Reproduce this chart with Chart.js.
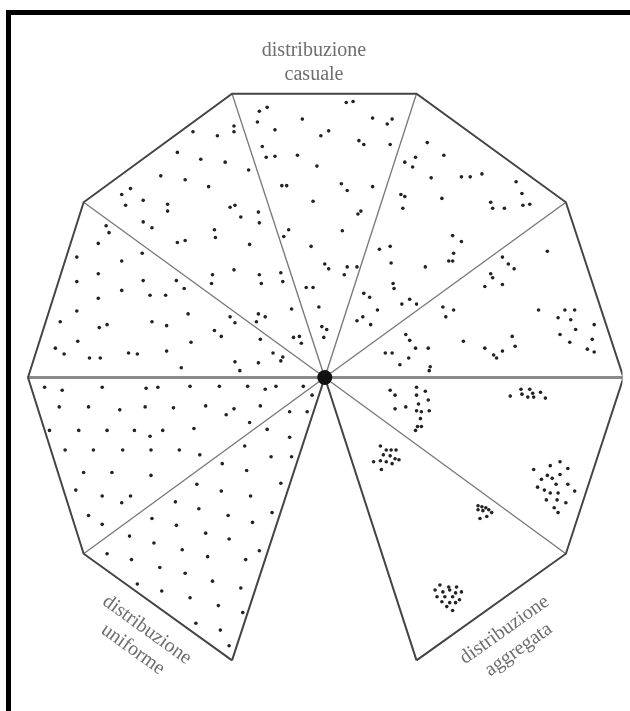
<!DOCTYPE html>
<html>
<head>
<meta charset="utf-8">
<script src="https://cdn.jsdelivr.net/npm/chart.js@4"></script>
<style>
  body { margin: 0; background: #fff; }
  #wrap { position: relative; width: 630px; height: 711px; overflow: hidden; }
  #cornice { position: absolute; left: 6px; top: 10px; width: 700px; height: 800px; border: 5px solid #000; box-sizing: border-box; }
  #area { position: absolute; left: 0; top: 0; width: 630px; height: 711px; }
</style>
</head>
<body>
<div id="wrap">
  <div id="cornice"></div>
  <div id="area"><canvas id="grafico"></canvas></div>
</div>
<script>
// vertici del decagono (giro orario dal basso a sinistra), coordinate dell'immagine
const verticiX = [230, 78, 21, 78, 230, 419, 572, 631, 572, 419];
const verticiY = [667, 558, 378, 199, 88, 88, 199, 378, 558, 667];
const centro = [325, 378];

// testi delle tre etichette
const etichetteTesti = [
  ["distribuzione", "casuale"],
  ["distribuzione", "uniforme"],
  ["distribuzione", "aggregata"]
];

// punti: spicchi in alto a sinistra
const puntiAltoSinistra = [
  [190,127],[215,131],[232,121],[232,127],[174,148],[198,155],[223,158],[157,172],[182,176],[206,183],
  [117,191],[126,185],[121,202],[139,197],[164,201],[164,208],[228,204],[233,202],[139,219],[148,225],
  [212,227],[213,235],[174,240],[182,238],[138,251],[232,268],[210,273],[209,282],
  [101,223],[104,230],[93,241],[71,255],[117,259],[93,272],[71,280],[139,279],[173,279],[181,287],
  [117,289],[146,294],[162,294],[93,297],[71,310],[185,313],[228,316],[233,322],[54,321],[148,321],
  [163,325],[94,327],[102,324],[212,330],[219,336],[72,341],[188,342],[49,348],[58,354],[84,358],
  [95,358],[124,353],[133,354],[163,351],[178,368],[233,362],
  [239,214],[257,209],[258,220],[248,242],[247,166],[258,273],[260,282],[280,271],[282,280],[291,308],
  [257,313],[264,316],[255,321],[259,339],[293,337],[299,336],[301,343],[272,353],[280,361],[282,357],
  [238,371],[257,363]
];

// punti: spicchio in alto (distribuzione casuale)
const puntiAlto = [
  [258,106],[266,102],[256,117],[274,125],[261,142],[265,153],[274,152],[281,182],[286,182],[283,234],
  [288,227],[306,286],[313,286],[319,306],[322,326],[327,329],[324,337],
  [347,97],[354,96],[302,114],[321,131],[329,126],[360,136],[365,140],[374,113],[389,119],[394,114],
  [392,140],[297,151],[317,162],[342,180],[348,187],[374,183],[313,198],[359,211],[362,208],[343,228],
  [311,244],[325,262],[329,267],[345,273],[348,265],[358,265]
];

// punti: spicchi in alto a destra
const puntiAltoDestra = [
  [407,158],[418,153],[415,163],[430,138],[434,174],[403,191],[407,193],[405,205],[381,247],[392,244],
  [393,261],[428,265],[395,282],[396,287],[365,292],[371,296],[412,298],[404,303],[419,303],[379,309],
  [358,320],[364,316],[372,324],[408,334],[412,340],[418,348],[431,348],[387,353],[394,353],[411,358],
  [402,365],[433,367],[432,371],
  [447,151],[465,173],[474,173],[486,170],[445,195],[521,178],[527,190],[495,199],[497,205],[509,205],
  [528,202],[535,201],[456,233],[465,239],[457,251],[452,259],[456,259],
  [553,249],[507,255],[513,262],[519,267],[495,272],[497,276],[507,283],[489,285],[446,306],[457,309],
  [449,316],[544,309],[571,309],[581,309],[564,317],[577,319],[582,329],[601,324],[566,334],[576,342],
  [599,339],[594,349],[601,352],[467,341],[489,348],[498,355],[501,358],[507,351],[517,336],[520,346]
];

// punti: distribuzione uniforme (in basso a sinistra)
const puntiUniforme = [
  [38,388],[56,391],[97,388],[142,389],[154,388],[187,387],[217,387],[53,408],[83,408],[115,411],
  [141,408],[170,409],[203,407],[224,416],[232,410],[43,432],[73,432],[102,432],[130,432],[146,438],
  [159,432],[191,430],[59,452],[88,452],[118,452],[147,452],[176,452],[197,457],[220,466],[78,475],
  [107,475],[147,478],[194,487],[219,494],[70,493],[97,499],[117,506],[126,499],[172,505],[196,512],
  [226,519],[83,519],[97,528],[148,522],[173,529],[203,537],[227,543],[125,540],[150,547],[179,554],
  [205,561],[102,558],[127,564],[156,572],[182,578],[210,586],[133,589],[158,596],[187,603],[216,611],
  [193,629],[218,636],[227,652],
  [246,387],[264,390],[275,387],[303,387],[312,396],[259,407],[289,413],[307,413],[248,424],[266,431],
  [289,439],[243,448],[270,459],[291,459],[245,473],[280,486],[249,499],[271,516],[251,526],[258,555],
  [244,564],[239,593],[241,618]
];

// punti: distribuzione aggregata (in basso a destra)
const puntiAggregata = [
  [392,391],[397,396],[397,410],[408,408],[419,388],[428,392],[419,396],[421,405],[431,401],[424,413],
  [419,412],[432,412],[423,420],[420,428],[424,428],[418,432],
  [382,448],[388,452],[393,452],[398,452],[385,457],[392,458],[397,461],[375,464],[382,463],[388,464],
  [394,466],[401,462],[383,472],
  [515,397],[526,390],[527,395],[535,390],[533,398],[539,398],[546,393],[551,399],[538,394],
  [539,472],[556,468],[566,464],[574,471],[547,482],[553,478],[558,481],[566,477],[574,487],[543,490],
  [550,493],[562,487],[556,496],[564,496],[581,494],[552,503],[563,503],[572,506],[560,511],[564,516],
  [482,509],[486,510],[490,511],[482,513],[487,514],[493,513],[496,516],[484,522],[491,520],
  [443,590],[452,592],[460,592],[438,595],[446,597],[453,595],[459,598],[465,597],[440,602],[448,602],
  [456,602],[463,605],[445,607],[453,608],[459,608],[450,612],[456,616]
];

document.addEventListener("DOMContentLoaded", () => {
  const ctx = document.getElementById("grafico").getContext("2d");
  const punto = p => ({ x: p[0], y: p[1] });
  const vertice = i => ({ x: verticiX[i], y: verticiY[i] });
  const c = { x: centro[0], y: centro[1] };
  const gap = { x: null, y: null };

  // contorno aperto (manca il lato in basso)
  const contorno = verticiX.map((_, i) => vertice(i));
  // raggi sottili interni
  const raggi = [];
  [1, 3, 4, 5, 6, 8].forEach(i => raggi.push(c, vertice(i), gap));
  // raggi verso i vertici in basso (bordi scuri)
  const raggiBassi = [vertice(0), c, vertice(9)];
  // linea orizzontale
  const orizzontale = [vertice(2), vertice(7)];

  const tuttiPunti = [].concat(puntiAltoSinistra, puntiAlto, puntiAltoDestra, puntiUniforme, puntiAggregata).map(punto);

  const linea = (data, colore, spessore) => ({
    type: "scatter", data: data, showLine: true, spanGaps: false,
    borderColor: colore, borderWidth: spessore, pointRadius: 0, fill: false
  });

  // etichette ruotate lungo i lati
  const pluginEtichette = {
    id: "etichette",
    afterDatasetsDraw(chart, args, opts) {
      const xs = chart.scales.x, ys = chart.scales.y;
      const g = chart.ctx;
      opts.posizioni.forEach((pos, k) => {
        g.save();
        g.translate(xs.getPixelForValue(pos.x), ys.getPixelForValue(pos.y));
        g.rotate(pos.angolo * Math.PI / 180);
        g.font = opts.font;
        g.fillStyle = opts.colore;
        g.textAlign = "center";
        g.textBaseline = "alphabetic";
        etichetteTesti[k].forEach((riga, r) => g.fillText(riga, 0, r * pos.interlinea));
        g.restore();
      });
    }
  };

  new Chart(ctx, {
    type: "scatter",
    data: {
      datasets: [
        { data: [c], pointRadius: 7.5, backgroundColor: "#111", borderWidth: 0 },
        { data: tuttiPunti, pointRadius: 1.8, backgroundColor: "#222", borderWidth: 0 },
        linea(contorno, "#444", 2),
        linea(raggiBassi, "#444", 2),
        linea(raggi, "#7a7a7a", 1.4),
        linea(orizzontale, "#8a8a8a", 3)
      ]
    },
    options: {
      responsive: true,
      maintainAspectRatio: false,
      animation: false,
      layout: { padding: 0 },
      scales: {
        x: { type: "linear", min: 0, max: 630, display: false },
        y: { type: "linear", min: 0, max: 711, reverse: true, display: false }
      },
      plugins: {
        legend: { display: false },
        tooltip: { enabled: false },
        etichette: {
          font: '20px "Liberation Serif", serif',
          colore: "#6e6e6e",
          posizioni: [
            { x: 314, y: 50, angolo: 0, interlinea: 23.5 },
            { x: 139.7, y: 640.2, angolo: 35.8, interlinea: 24 },
            { x: 512.3, y: 640.3, angolo: -35.5, interlinea: 24 }
          ]
        }
      }
    },
    plugins: [pluginEtichette]
  });
});
</script>
</body>
</html>
